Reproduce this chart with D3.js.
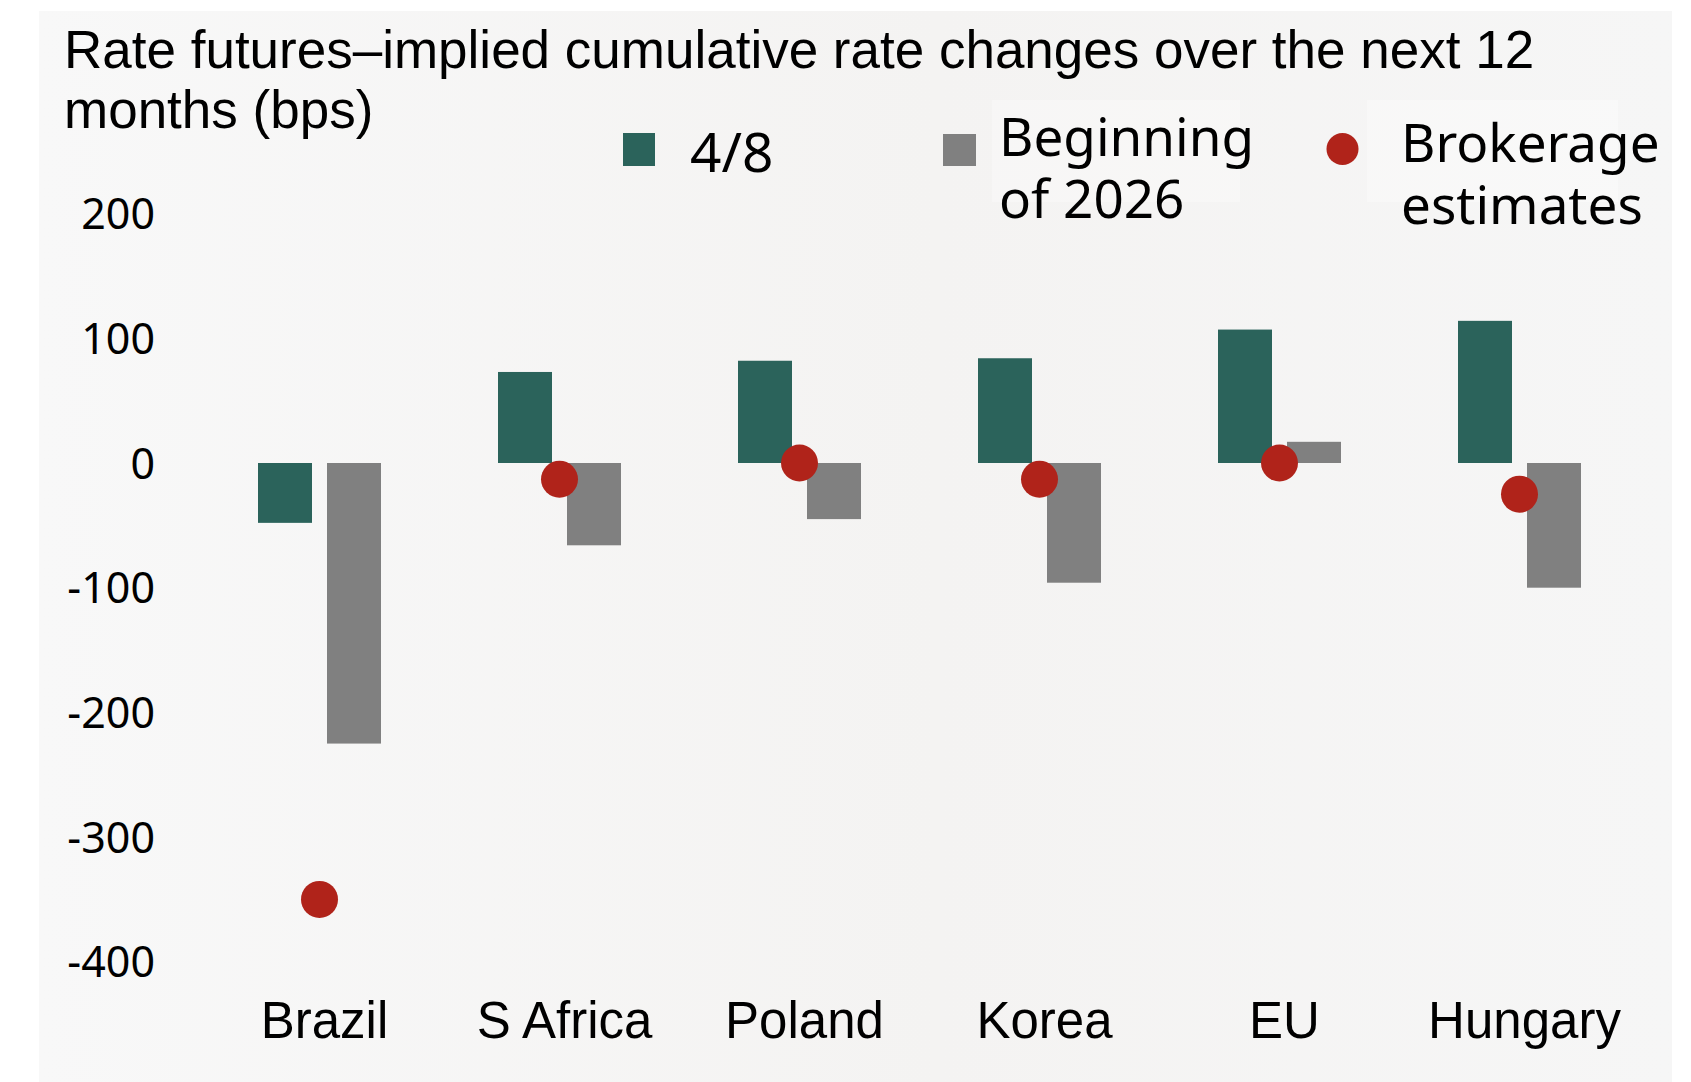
<!DOCTYPE html>
<html>
<head>
<meta charset="utf-8">
<script src="https://cdn.jsdelivr.net/npm/d3@7"></script>
<style>
  html, body { margin: 0; padding: 0; background: #ffffff; }
  svg { display: block; }
</style>
</head>
<body>
<script>
// ---- data ----
const categories = ["Brazil", "S Africa", "Poland", "Korea", "EU", "Hungary"];
const seriesApr8 = [-48, 73, 82, 84, 107, 114];          // 4/8
const seriesBegin2026 = [-225, -66, -45, -96, 17, -100];  // Beginning of 2026
const brokerageEstimates = [-350, -13, 0, -13, 0, -25];  // Brokerage estimates
const yTicks = [200, 100, 0, -100, -200, -300, -400];
const titleLines = ["Rate futures\u2013implied cumulative rate changes over the next 12", "months (bps)"];
const legendLabels = [["4/8"], ["Beginning", "of 2026"], ["Brokerage", "estimates"]];

// ---- styles ----
const W = 1691, H = 1082;
const teal = "#2b635b", gray = "#808080", red = "#b0231a";
const latinFont = "'Liberation Sans', Arial, sans-serif";
const uiFont = "'Noto Sans', 'Open Sans', sans-serif";

const svg = d3.select("body").append("svg").attr("width", W).attr("height", H);

// background panel with soft gradient
const defs = svg.append("defs");
const grad = defs.append("linearGradient").attr("id", "bg").attr("x1", "0").attr("y1", "0").attr("x2", "1").attr("y2", "0");
grad.append("stop").attr("offset", "0%").attr("stop-color", "#f8f8f8");
grad.append("stop").attr("offset", "55%").attr("stop-color", "#f4f3f2");
grad.append("stop").attr("offset", "100%").attr("stop-color", "#f6f6f6");
svg.append("rect").attr("x", 39).attr("y", 11).attr("width", 1633).attr("height", 1071).attr("fill", "url(#bg)");

// scales
const x = d3.scaleBand().domain(categories).range([199.5, 1639.5]).paddingInner(0).paddingOuter(0);
const xSub = d3.scaleBand().domain(["apr8", "begin"]).range([-61.5, 61.5]).paddingInner(15 / 69).paddingOuter(0);
const y = d3.scaleLinear().domain([-400, 200]).range([961.8, 213.6]);

// title
const title = svg.append("text").attr("font-family", latinFont).attr("font-size", 53).attr("fill", "#000");
titleLines.forEach((t, i) => {
  title.append("tspan").attr("x", 64).attr("y", 68 + i * 60).text(t);
});

// legend (faint lighter boxes behind entries)
svg.append("rect").attr("x", 992).attr("y", 100).attr("width", 248).attr("height", 102).attr("fill", "#ffffff").attr("opacity", 0.3);
svg.append("rect").attr("x", 1367).attr("y", 100).attr("width", 251).attr("height", 102).attr("fill", "#ffffff").attr("opacity", 0.3);

const legend = svg.append("g").attr("font-family", uiFont).attr("font-size", 53).attr("fill", "#000");
legend.append("rect").attr("x", 623).attr("y", 133).attr("width", 32).attr("height", 33).attr("fill", teal);
legend.append("rect").attr("x", 943).attr("y", 134).attr("width", 33).attr("height", 32).attr("fill", gray);
legend.append("circle").attr("cx", 1342.5).attr("cy", 149).attr("r", 16).attr("fill", red);
const legendPos = [{x: 690, y: 171.5, s: 55}, {x: 999, y: 156, s: 53}, {x: 1401, y: 162, s: 53}];
legendLabels.forEach((lines, i) => {
  lines.forEach((ln, j) => {
    legend.append("text")
      .attr("x", legendPos[i].x).attr("y", legendPos[i].y + j * 62)
      .attr("font-size", legendPos[i].s)
      .text(ln);
  });
});

// y axis labels (no line / ticks)
const yAxis = d3.axisLeft(y).tickValues(yTicks).tickSize(0).tickPadding(0).tickFormat(d3.format("d"));
const yg = svg.append("g").attr("transform", "translate(155,0)").call(yAxis);
yg.select(".domain").remove();
yg.selectAll("text")
  .attr("font-family", uiFont).attr("font-size", 43).attr("fill", "#000")
  .attr("dy", null).attr("dominant-baseline", null)
  .attr("transform", "translate(0,15)")
  .text(d => d < 0 ? "-" + Math.abs(d) : String(d));

// x axis labels
const xAxis = d3.axisBottom(x).tickSize(0).tickPadding(0);
const xg = svg.append("g").attr("transform", "translate(5,0)").call(xAxis);
xg.select(".domain").remove();
xg.selectAll("text")
  .attr("font-family", latinFont).attr("font-size", 51).attr("fill", "#000")
  .attr("dy", null).attr("y", 1038);

// bars
const groups = svg.append("g").selectAll("g").data(categories).join("g")
  .attr("transform", d => `translate(${x(d) + x.bandwidth() / 2},0)`);

groups.append("rect")
  .attr("x", xSub("apr8"))
  .attr("width", xSub.bandwidth())
  .attr("y", (d, i) => Math.min(y(seriesApr8[i]), y(0)))
  .attr("height", (d, i) => Math.abs(y(seriesApr8[i]) - y(0)))
  .attr("fill", teal);

groups.append("rect")
  .attr("x", xSub("begin"))
  .attr("width", xSub.bandwidth())
  .attr("y", (d, i) => Math.min(y(seriesBegin2026[i]), y(0)))
  .attr("height", (d, i) => Math.abs(y(seriesBegin2026[i]) - y(0)))
  .attr("fill", gray);

// brokerage dots
groups.append("circle")
  .attr("cx", 0)
  .attr("cy", (d, i) => y(brokerageEstimates[i]))
  .attr("r", 18.5)
  .attr("fill", red);
</script>
</body>
</html>
